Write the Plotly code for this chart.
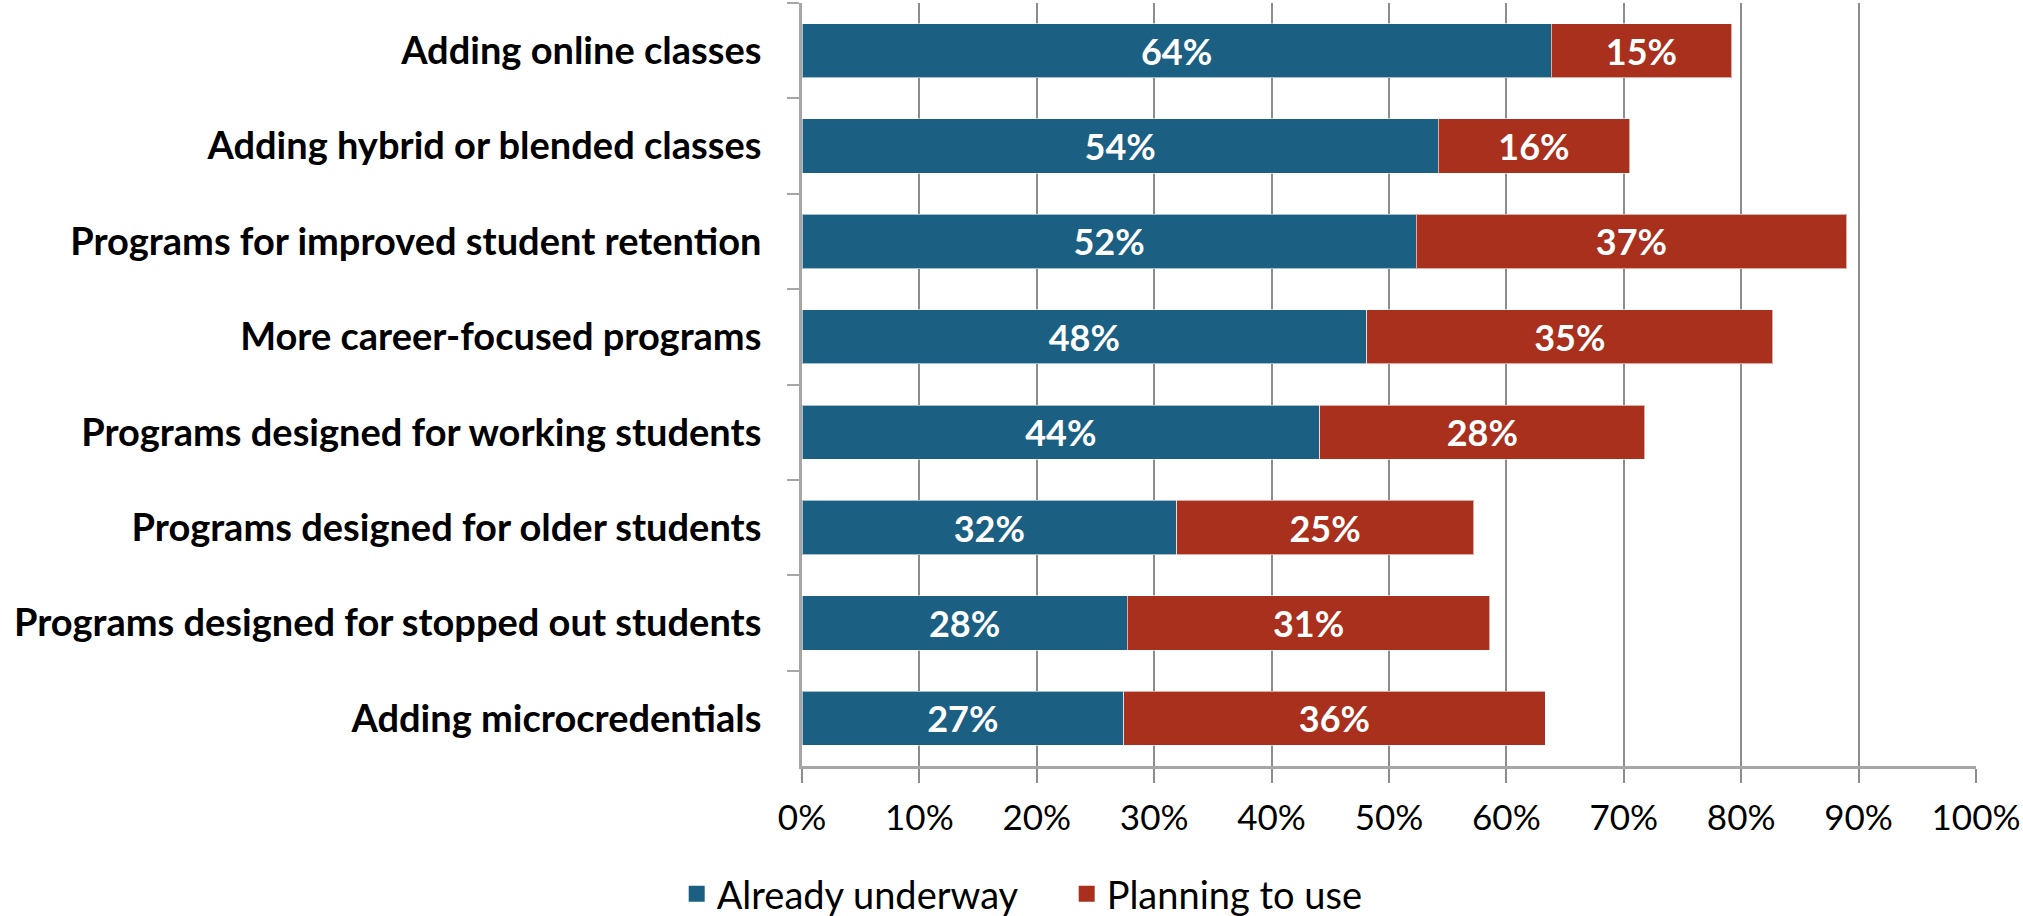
import plotly.graph_objects as go

categories = [
    "Adding online classes",
    "Adding hybrid or blended classes",
    "Programs for improved student retention",
    "More career-focused programs",
    "Programs designed for working students",
    "Programs designed for older students",
    "Programs designed for stopped out students",
    "Adding microcredentials",
]
already_underway = [63.8, 54.2, 52.3, 48.1, 44.1, 31.9, 27.7, 27.4]
planning_to_use = [15.4, 16.3, 36.7, 34.6, 27.7, 25.3, 30.9, 35.9]
already_labels = ["64%", "54%", "52%", "48%", "44%", "32%", "28%", "27%"]
planning_labels = ["15%", "16%", "37%", "35%", "28%", "25%", "31%", "36%"]
series_names = ["Already underway", "Planning to use"]
x_ticks = [0, 10, 20, 30, 40, 50, 60, 70, 80, 90, 100]
x_tick_labels = ["0%", "10%", "20%", "30%", "40%", "50%", "60%", "70%", "80%", "90%", "100%"]

BLUE = "#1B6083"
RED = "#A8301D"
FONT = "Lato"

fig = go.Figure()
for vals, labels, name, color in [
    (already_underway, already_labels, series_names[0], BLUE),
    (planning_to_use, planning_labels, series_names[1], RED),
]:
    fig.add_trace(go.Bar(
        y=categories, x=vals, orientation="h", name=name,
        marker=dict(color=color, line=dict(color="rgba(255,255,255,0.6)", width=1)),
        text=labels, textposition="inside", insidetextanchor="middle",
        constraintext="none",
        textfont=dict(family=FONT, size=36, color="white", weight="bold"),
        hoverinfo="skip", showlegend=False, legendgroup=name,
    ))
# legend swatches (larger squares like the original)
for name, color in [(series_names[0], BLUE), (series_names[1], RED)]:
    fig.add_trace(go.Scatter(
        x=[None], y=[None], mode="markers", name=name, legendgroup=name,
        marker=dict(symbol="square", size=22, color=color),
        hoverinfo="skip", showlegend=True,
    ))

fig.update_layout(
    width=2023, height=916,
    barmode="stack", bargap=0.43,
    plot_bgcolor="white", paper_bgcolor="white",
    margin=dict(l=802, r=47, t=3, b=150, autoexpand=False),
    font=dict(family=FONT, color="black"),
    legend=dict(
        orientation="h", xref="container", yref="container",
        x=0.3345, xanchor="left", y=0.024, yanchor="middle",
        traceorder="normal", itemsizing="trace",
        font=dict(family=FONT, size=38, color="black"),
        entrywidth=345, entrywidthmode="pixels",
    ),
    xaxis=dict(
        range=[0, 100], tickmode="array", tickvals=x_ticks, ticktext=x_tick_labels,
        showgrid=True, gridcolor="#8C8C8C", gridwidth=2,
        showline=True, linecolor="#A6A6A6", linewidth=3,
        ticks="outside", ticklen=14, tickcolor="#8C8C8C", tickwidth=2,
        tickfont=dict(family=FONT, size=35, color="black"),
        ticklabelstandoff=5, automargin=False, ticklabeloverflow="allow",
        zeroline=False, fixedrange=True,
    ),
    yaxis=dict(
        autorange="reversed", type="category", categoryorder="array",
        categoryarray=categories,
        showline=True, linecolor="#A6A6A6", linewidth=3,
        ticks="outside", ticklen=12, tickcolor="#A6A6A6", tickwidth=2,
        tickson="boundaries",
        tickfont=dict(family=FONT, size=38, color="black", weight="bold"),
        ticklabelstandoff=30, automargin=False,
        showgrid=False, fixedrange=True,
    ),
)

fig.write_html(
    "out.html",
    config={"displayModeBar": False},
    post_script="document.body.style.margin='0px';document.body.style.overflow='hidden';",
)
